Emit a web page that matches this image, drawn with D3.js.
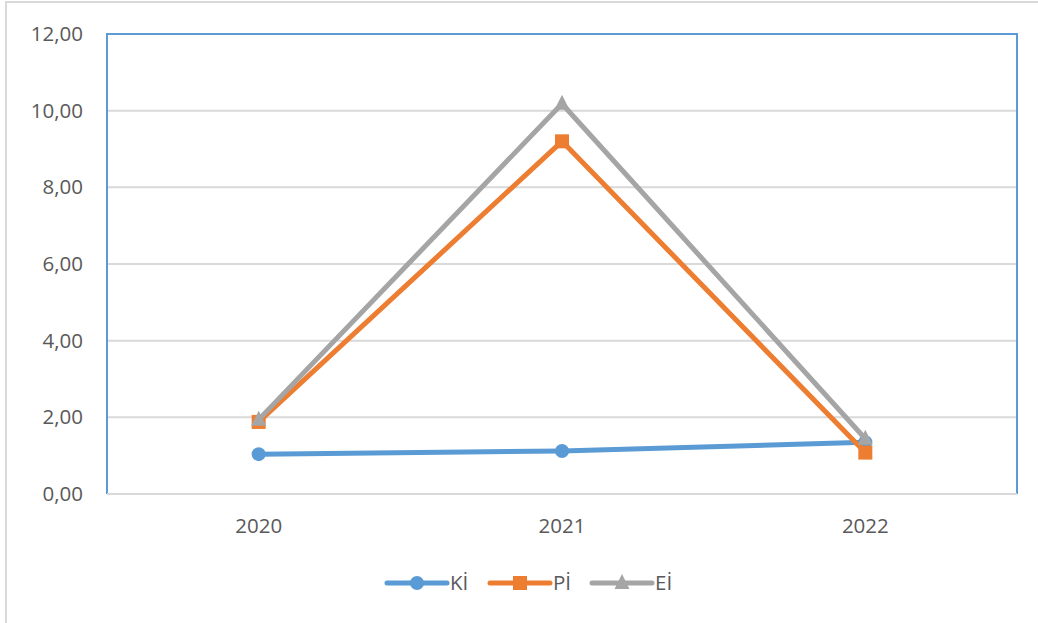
<!DOCTYPE html>
<html>
<head>
<meta charset="utf-8">
<script src="https://cdn.jsdelivr.net/npm/d3@7"></script>
<style>
  html, body { margin: 0; padding: 0; background: #fff; }
  svg { display: block; font-family: "Open Sans", "Liberation Sans", sans-serif; }
</style>
</head>
<body>
<svg id="chart" width="1038" height="623"></svg>
<script>
// Years on the category axis
const years = ["2020", "2021", "2022"];

// Index series
const kiValues = [1.04, 1.12, 1.35];
const piValues = [1.88, 9.20, 1.08];
const eiValues = [1.94, 10.18, 1.44];

// Value axis ticks
const yTicks = [0, 2, 4, 6, 8, 10, 12];

const seriesNames = ["Kİ", "Pİ", "Eİ"];
const seriesColors = ["#5B9BD5", "#ED7D31", "#A5A5A5"];
const seriesMarkers = ["circle", "square", "triangle"];
const seriesValues = [kiValues, piValues, eiValues];

const svg = d3.select("#chart");
const W = 1038, H = 623;
const plot = { left: 107, top: 34, right: 1017, bottom: 494 };
const fontSize = 20.5;
const textColor = "#595959";

// Outer chart frame
svg.append("rect")
  .attr("x", 6).attr("y", 2)
  .attr("width", W + 10).attr("height", H + 10)
  .attr("fill", "#fff").attr("stroke", "#D9D9D9").attr("stroke-width", 2);

const x = d3.scaleBand().domain(years).range([plot.left, plot.right]);
const y = d3.scaleLinear().domain([0, 12]).range([plot.bottom, plot.top]);

// Gridlines
svg.append("g")
  .selectAll("line")
  .data(yTicks.filter(t => t > 0 && t < 12))
  .join("line")
  .attr("x1", plot.left).attr("x2", plot.right)
  .attr("y1", d => y(d)).attr("y2", d => y(d))
  .attr("stroke", "#D9D9D9").attr("stroke-width", 2);

// Plot area border (blue on top, left and right)
svg.append("path")
  .attr("d", `M${plot.left},${plot.bottom} V${plot.top} H${plot.right} V${plot.bottom}`)
  .attr("fill", "none").attr("stroke", "#5B9BD5").attr("stroke-width", 2);

// Category axis line
svg.append("line")
  .attr("x1", plot.left).attr("x2", plot.right)
  .attr("y1", plot.bottom).attr("y2", plot.bottom)
  .attr("stroke", "#D9D9D9").attr("stroke-width", 2);

const fmt = v => d3.format(".2f")(v).replace(".", ",");

// Y axis labels
const yAxis = d3.axisLeft(y).tickValues(yTicks).tickFormat(fmt).tickSize(0).tickPadding(24);
const yg = svg.append("g").attr("transform", `translate(${plot.left},0)`).call(yAxis);
yg.select(".domain").remove();
yg.selectAll("text").attr("font-size", fontSize).attr("fill", textColor)
  .attr("font-family", "'Open Sans', 'Liberation Sans', sans-serif");

// X axis labels
const xAxis = d3.axisBottom(x).tickSize(0).tickPadding(24);
const xg = svg.append("g").attr("transform", `translate(0,${plot.bottom})`).call(xAxis);
xg.select(".domain").remove();
xg.selectAll("text").attr("font-size", fontSize).attr("fill", textColor)
  .attr("font-family", "'Open Sans', 'Liberation Sans', sans-serif");

const cx = d => x(d) + x.bandwidth() / 2;

function drawMarker(g, type, px, py, color) {
  if (type === "circle") {
    g.append("circle").attr("cx", px).attr("cy", py).attr("r", 7).attr("fill", color);
  } else if (type === "square") {
    g.append("rect").attr("x", px - 7).attr("y", py - 7).attr("width", 14).attr("height", 14).attr("fill", color);
  } else {
    const s = 15;
    g.append("path")
      .attr("d", `M${px},${py - s * 0.6} L${px + s / 2},${py + s * 0.4} L${px - s / 2},${py + s * 0.4} Z`)
      .attr("fill", color);
  }
}

// Series lines and markers
const line = d3.line().x((d, i) => cx(years[i])).y(d => y(d));
seriesValues.forEach((vals, si) => {
  const g = svg.append("g");
  g.append("path").datum(vals)
    .attr("d", line)
    .attr("fill", "none")
    .attr("stroke", seriesColors[si])
    .attr("stroke-width", 5)
    .attr("stroke-linejoin", "miter")
    .attr("stroke-linecap", "round");
  vals.forEach((v, i) => drawMarker(g, seriesMarkers[si], cx(years[i]), y(v), seriesColors[si]));
});

// Legend
const legendY = 583;
const legendX = [387, 490, 592];
seriesNames.forEach((name, si) => {
  const g = svg.append("g");
  const lx = legendX[si];
  g.append("line")
    .attr("x1", lx).attr("x2", lx + 60)
    .attr("y1", legendY).attr("y2", legendY)
    .attr("stroke", seriesColors[si]).attr("stroke-width", 5)
    .attr("stroke-linecap", "round");
  drawMarker(g, seriesMarkers[si], lx + 30, legendY, seriesColors[si]);
  g.append("text")
    .attr("x", lx + 63).attr("y", legendY)
    .attr("dy", "0.35em")
    .attr("font-size", fontSize).attr("fill", textColor)
    .text(name);
});
</script>
</body>
</html>
